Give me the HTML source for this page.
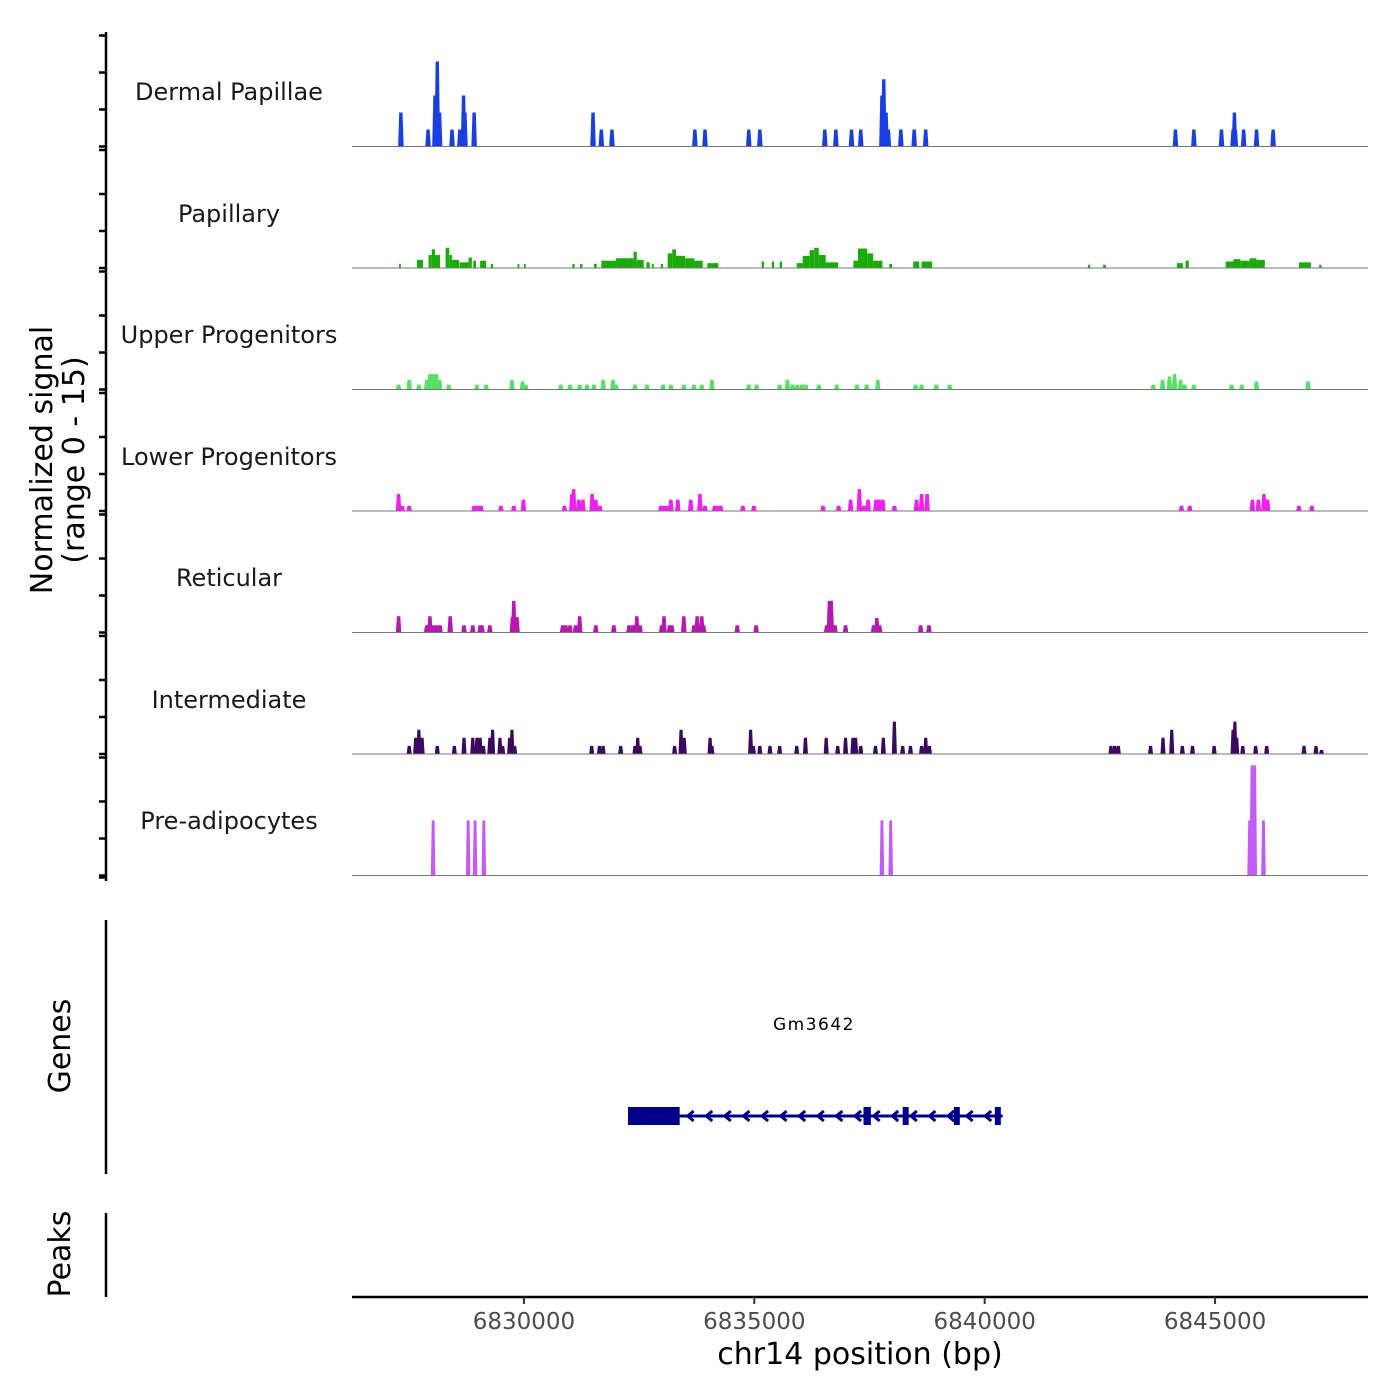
<!DOCTYPE html>
<html><head><meta charset="utf-8">
<style>
html,body{margin:0;padding:0;background:#fff;}
svg{display:block;font-family:"DejaVu Sans","Liberation Sans",sans-serif;}
</style></head>
<body>
<svg id="chart" width="1400" height="1400" viewBox="0 0 1400 1400" xmlns="http://www.w3.org/2000/svg">
<rect width="1400" height="1400" fill="#fff"/>
</svg>
<script>
// genomic positions in kb, heights in normalized signal units
const xDomain = [6826.269, 6848.319];
const xTicks = [6830000, 6835000, 6840000, 6845000];
const xTickLabels = ["6830000", "6835000", "6840000", "6845000"];
const trackNames = ["Dermal Papillae","Papillary","Upper Progenitors","Lower Progenitors","Reticular","Intermediate","Pre-adipocytes"];
const trackColors = ["#1a3fe0","#1aab0a","#5ade6a","#f020f0","#b519b0","#3b0a60","#c25cf5"];
const dermalPapillae = [[6827.33,4.2],[6827.92,2.1],[6828.07,6.3],[6828.12,10.5],[6828.17,4.2],[6828.44,2.1],[6828.61,2.1],[6828.69,6.3],[6828.72,4.2],[6828.92,4.2],[6831.50,4.2],[6831.68,2.1],[6831.91,2.1],[6833.71,2.1],[6833.93,2.1],[6834.88,2.1],[6835.12,2.1],[6836.53,2.1],[6836.77,2.1],[6837.11,2.1],[6837.31,2.1],[6837.77,6.3],[6837.81,8.3],[6837.86,4.2],[6837.91,2.1],[6838.18,2.1],[6838.47,2.1],[6838.72,2.1],[6844.14,2.1],[6844.54,2.1],[6845.14,2.1],[6845.39,2.1],[6845.42,4.2],[6845.44,2.1],[6845.62,2.1],[6845.90,2.1],[6846.26,2.1]];
const papillary = [[6827.29,6827.33,0.5],[6827.68,6827.81,1.0],[6827.93,6828.00,1.6],[6828.00,6828.07,2.3],[6828.07,6828.18,1.6],[6828.30,6828.38,2.5],[6828.38,6828.44,1.6],[6828.44,6828.59,1.0],[6828.60,6828.80,0.7],[6828.80,6828.87,1.3],[6828.90,6828.96,0.9],[6829.05,6829.18,0.9],[6829.28,6829.33,0.5],[6829.86,6829.90,0.5],[6830.00,6830.04,0.5],[6831.05,6831.10,0.5],[6831.22,6831.27,0.5],[6831.52,6831.58,0.5],[6831.68,6832.00,0.9],[6832.00,6832.38,1.2],[6832.38,6832.45,2.0],[6832.45,6832.60,1.0],[6832.66,6832.73,0.7],[6832.78,6832.82,0.5],[6832.97,6833.02,0.5],[6833.12,6833.22,1.8],[6833.22,6833.30,2.3],[6833.30,6833.50,1.5],[6833.50,6833.70,1.2],[6833.70,6833.88,0.9],[6833.98,6834.22,0.6],[6835.16,6835.21,0.8],[6835.38,6835.43,0.8],[6835.55,6835.60,0.8],[6835.92,6836.05,0.6],[6836.05,6836.20,1.5],[6836.20,6836.30,2.2],[6836.30,6836.40,2.5],[6836.40,6836.55,1.6],[6836.55,6836.82,0.7],[6837.15,6837.25,0.9],[6837.25,6837.45,2.4],[6837.45,6837.58,1.8],[6837.58,6837.78,0.9],[6837.93,6837.99,0.5],[6838.45,6838.58,0.8],[6838.63,6838.86,0.8],[6842.24,6842.29,0.4],[6842.57,6842.63,0.4],[6844.17,6844.30,0.6],[6844.36,6844.43,0.9],[6845.23,6845.40,0.8],[6845.40,6845.55,1.1],[6845.55,6845.75,0.9],[6845.75,6845.90,1.2],[6845.90,6846.08,1.0],[6846.82,6847.08,0.7],[6847.26,6847.31,0.4]];
const upperProgenitors = [[6827.28,0.6],[6827.51,1.2],[6827.72,0.6],[6827.89,1.2],[6827.96,1.9],[6828.03,1.9],[6828.10,1.9],[6828.17,1.2],[6828.37,0.6],[6828.98,0.6],[6829.18,0.6],[6829.74,1.2],[6829.97,1.0],[6830.04,0.6],[6830.80,0.6],[6831.00,0.6],[6831.21,0.6],[6831.37,0.6],[6831.52,0.6],[6831.72,1.2],[6831.93,1.2],[6832.00,0.6],[6832.41,0.6],[6832.67,0.6],[6833.02,0.6],[6833.19,0.6],[6833.47,0.6],[6833.69,0.6],[6833.86,0.6],[6834.08,1.2],[6834.88,0.6],[6835.05,0.6],[6835.55,0.6],[6835.72,1.2],[6835.83,0.6],[6835.93,0.6],[6836.03,0.6],[6836.12,0.6],[6836.40,0.6],[6836.79,0.6],[6837.23,0.6],[6837.44,0.6],[6837.68,1.2],[6838.50,0.6],[6838.63,0.6],[6838.95,0.6],[6839.24,0.6],[6843.66,0.6],[6843.86,1.2],[6844.01,1.6],[6844.12,1.9],[6844.25,1.2],[6844.34,0.6],[6844.54,0.6],[6845.36,0.6],[6845.58,0.6],[6845.90,1.0],[6847.02,1.0]];
const lowerProgenitors = [[6827.28,2.1],[6827.36,0.65],[6827.51,0.65],[6828.92,0.65],[6829.00,0.65],[6829.07,0.65],[6829.50,0.65],[6829.78,0.65],[6829.99,1.4],[6830.88,0.65],[6831.04,2.1],[6831.08,2.7],[6831.19,1.4],[6831.28,1.4],[6831.48,2.1],[6831.56,1.4],[6831.65,0.65],[6832.97,0.65],[6833.05,0.65],[6833.12,0.65],[6833.19,1.4],[6833.34,1.4],[6833.62,1.4],[6833.82,2.1],[6833.93,0.65],[6834.14,0.65],[6834.21,0.65],[6834.27,0.65],[6834.75,0.65],[6834.99,0.65],[6836.49,0.65],[6836.83,0.65],[6837.09,1.4],[6837.28,2.7],[6837.38,0.65],[6837.47,1.4],[6837.64,1.4],[6837.71,1.4],[6837.79,1.4],[6838.04,0.65],[6838.52,1.4],[6838.63,2.1],[6838.75,2.1],[6844.27,0.65],[6844.45,0.65],[6845.81,1.4],[6845.94,1.4],[6846.06,2.1],[6846.14,1.4],[6846.82,0.65],[6847.10,0.65]];
const reticular = [[6827.28,2.0],[6827.89,0.9],[6827.96,2.0],[6828.03,0.9],[6828.10,0.9],[6828.18,0.9],[6828.40,2.0],[6828.70,0.9],[6828.89,0.9],[6829.05,0.9],[6829.09,0.9],[6829.26,0.9],[6829.75,1.9],[6829.78,3.9],[6829.85,1.9],[6830.84,0.9],[6830.91,0.9],[6831.00,0.9],[6831.12,0.9],[6831.21,2.0],[6831.56,0.9],[6831.95,0.9],[6832.28,0.9],[6832.36,0.9],[6832.45,2.0],[6832.52,0.9],[6832.99,0.9],[6833.04,2.0],[6833.16,0.9],[6833.21,0.9],[6833.47,2.0],[6833.69,0.9],[6833.76,2.0],[6833.86,2.0],[6833.90,0.9],[6834.63,0.9],[6835.04,0.9],[6836.57,0.9],[6836.63,3.9],[6836.67,3.9],[6836.75,0.9],[6836.98,0.9],[6837.59,0.9],[6837.66,1.8],[6837.72,0.9],[6838.61,0.9],[6838.79,0.9]];
const intermediate = [[6827.51,1.0],[6827.65,2.0],[6827.72,3.0],[6827.79,2.0],[6828.12,1.0],[6828.49,1.0],[6828.70,2.0],[6828.89,2.0],[6828.98,2.0],[6829.05,2.0],[6829.12,1.0],[6829.26,2.0],[6829.32,3.0],[6829.48,2.0],[6829.54,1.0],[6829.69,2.0],[6829.74,3.0],[6829.80,1.0],[6831.47,1.0],[6831.64,1.0],[6831.72,1.0],[6832.10,1.0],[6832.41,1.0],[6832.47,2.0],[6832.52,1.0],[6833.27,1.0],[6833.41,3.0],[6833.48,2.0],[6834.04,2.0],[6834.08,1.0],[6834.92,3.0],[6834.98,1.0],[6835.12,1.0],[6835.34,1.0],[6835.55,1.0],[6835.92,1.0],[6836.11,2.0],[6836.56,2.0],[6836.81,1.0],[6836.98,2.0],[6837.14,2.0],[6837.20,2.0],[6837.31,1.0],[6837.63,1.0],[6837.80,2.0],[6838.04,4.0],[6838.22,1.0],[6838.39,1.0],[6838.63,1.0],[6838.72,2.0],[6838.80,1.0],[6842.74,1.0],[6842.82,1.0],[6842.90,1.0],[6843.60,1.0],[6843.87,2.0],[6844.06,3.0],[6844.29,1.0],[6844.51,1.0],[6844.98,1.0],[6845.39,3.0],[6845.43,4.0],[6845.47,2.0],[6845.60,1.0],[6845.88,1.0],[6846.12,1.0],[6846.93,1.0],[6847.19,1.0],[6847.31,0.5]];
const preAdipocytes = [[6828.03,6.8],[6828.79,6.8],[6828.94,6.8],[6829.13,6.8],[6837.77,6.8],[6837.96,6.8],[6845.75,6.8],[6845.80,13.6],[6845.86,13.6],[6846.05,6.8]];
const geneName = "Gm3642";
const geneSpan = [6832.26, 6840.39];
const geneExons = [[6832.26,6833.38],[6837.37,6837.53],[6838.22,6838.35],[6839.33,6839.46],[6840.22,6840.35]];

const NS = "http://www.w3.org/2000/svg";
const svg = document.getElementById("chart");
const X0 = 352, X1 = 1368;
function xs(kb){ return X0 + (kb - xDomain[0]) / (xDomain[1] - xDomain[0]) * (X1 - X0); }
const baselines = [146.5, 268, 389.5, 511, 632.5, 754, 875.5];
const PX_PER_UNIT = 8.1;
function ys(t, v){ return baselines[t] - v * PX_PER_UNIT; }
function mk(tag, attrs, parent){
  const e = document.createElementNS(NS, tag);
  for (const k in attrs) e.setAttribute(k, attrs[k]);
  (parent || svg).appendChild(e);
  return e;
}
function txt(s, attrs, parent){ const e = mk("text", attrs, parent); e.textContent = s; return e; }

// left signal axis
const axG = mk("g", {});


mk("line", {x1:106, y1:32, x2:106, y2:881, stroke:"#000", "stroke-width":2.5}, axG);
const tickYs = [];
for (let t = 0; t < 7; t++){
  const b = baselines[t];
  [0, 37, 74].forEach(o => tickYs.push(b - o));
  if (t === 0) tickYs.push(b - 111); else tickYs.push(baselines[t-1] + 3.5);
}
tickYs.push(baselines[6] + 2);
tickYs.forEach(y => mk("line", {x1:99, y1:y, x2:106, y2:y, stroke:"#000", "stroke-width":2.5}, axG));

const yt = txt("", {transform:"translate(52,460) rotate(-90)", "text-anchor":"middle", "font-size":"30", fill:"#000"});


mk("tspan", {x:0, dy:0}, yt).textContent = "Normalized signal";
mk("tspan", {x:0, dy:32}, yt).textContent = "(range 0 - 15)";

// tracks
const pointTracks = {0: dermalPapillae, 2: upperProgenitors, 3: lowerProgenitors, 4: reticular, 5: intermediate, 6: preAdipocytes};
const halfW = {0:0.06, 2:0.06, 3:0.06, 4:0.06, 5:0.055, 6:0.05};
const trackLabelYs = [92, 214, 335, 457, 578, 700, 821];
for (let t = 0; t < 7; t++){
  const g = mk("g", {});
  
  
  const lbl = txt(trackNames[t], {x:229, y:trackLabelYs[t]+8, "text-anchor":"middle", "font-size":"24", fill:"#1a1a1a"}, g);
  
  
  const b = baselines[t];
  if (t === 1){
    papillary.forEach(d => {
      const p = mk("polygon", {points:`${xs(d[0])},${b} ${xs(d[0])},${ys(t,d[2])} ${xs(d[1])},${ys(t,d[2])} ${xs(d[1])},${b}`, fill:trackColors[t]}, g);
      
      
    });
  } else {
    const hw = halfW[t];
    pointTracks[t].forEach(d => {
      const xa = xs(d[0]-hw), xb = xs(d[0]+hw), xm = xs(d[0]);
      const tw = (xb - xa) * 0.3;
      const top = ys(t, d[1]);
      const p = mk("polygon", {points:`${xa},${b} ${xm-tw},${top} ${xm+tw},${top} ${xb},${b}`, fill:trackColors[t]}, g);
      
      
    });
  }
  const base = mk("line", {x1:X0, y1:b, x2:X1, y2:b, stroke:"#777", "stroke-width":1}, g);
  
  
}

// genes panel
const gG = mk("g", {});


mk("line", {x1:106, y1:920, x2:106, y2:1174, stroke:"#000", "stroke-width":2.5}, gG);
const gT = txt("Genes", {transform:"translate(70,1046) rotate(-90)", "text-anchor":"middle", "font-size":"30", fill:"#000"}, gG);


const gY = 1116;
const gx0 = xs(geneSpan[0]), gx1 = xs(geneSpan[1]);
const gl = txt(geneName, {x:814, y:1030, "text-anchor":"middle", "font-size":"17", "letter-spacing":"1.5", fill:"#000"}, gG);


const gline = mk("line", {x1:gx0, y1:gY, x2:gx1, y2:gY, stroke:"#00008b", "stroke-width":3}, gG);


for (let x = xs(geneExons[0][1]) + 8; x < gx1 - 4; x += 18.6){
  const a = mk("polyline", {points:`${x+6},${gY-5} ${x},${gY} ${x+6},${gY+5}`, fill:"none", stroke:"#00008b", "stroke-width":3}, gG);
  
  
}
geneExons.forEach(e => {
  const r = mk("rect", {x:xs(e[0]), y:gY-9, width:Math.max(6, xs(e[1])-xs(e[0])), height:18, fill:"#00008b"}, gG);
  
  
});

// peaks panel
const pG = mk("g", {});


mk("line", {x1:106, y1:1213, x2:106, y2:1297, stroke:"#000", "stroke-width":2.5}, pG);
const pT = txt("Peaks", {transform:"translate(70,1254) rotate(-90)", "text-anchor":"middle", "font-size":"30", fill:"#000"}, pG);



// x axis
const xG = mk("g", {});


mk("line", {x1:X0, y1:1297, x2:X1, y2:1297, stroke:"#000", "stroke-width":2.5}, xG);
xTicks.forEach((v, i) => {
  const x = xs(v/1000);
  mk("line", {x1:x, y1:1297, x2:x, y2:1304, stroke:"#333", "stroke-width":2}, xG);
  const l = txt(xTickLabels[i], {x:x, y:1329, "text-anchor":"middle", "font-size":"23", fill:"#4d4d4d"}, xG);
  
  
});
const xt = txt("chr14 position (bp)", {x:860, y:1364, "text-anchor":"middle", "font-size":"30", fill:"#000"}, xG);


</script>
</body></html>
